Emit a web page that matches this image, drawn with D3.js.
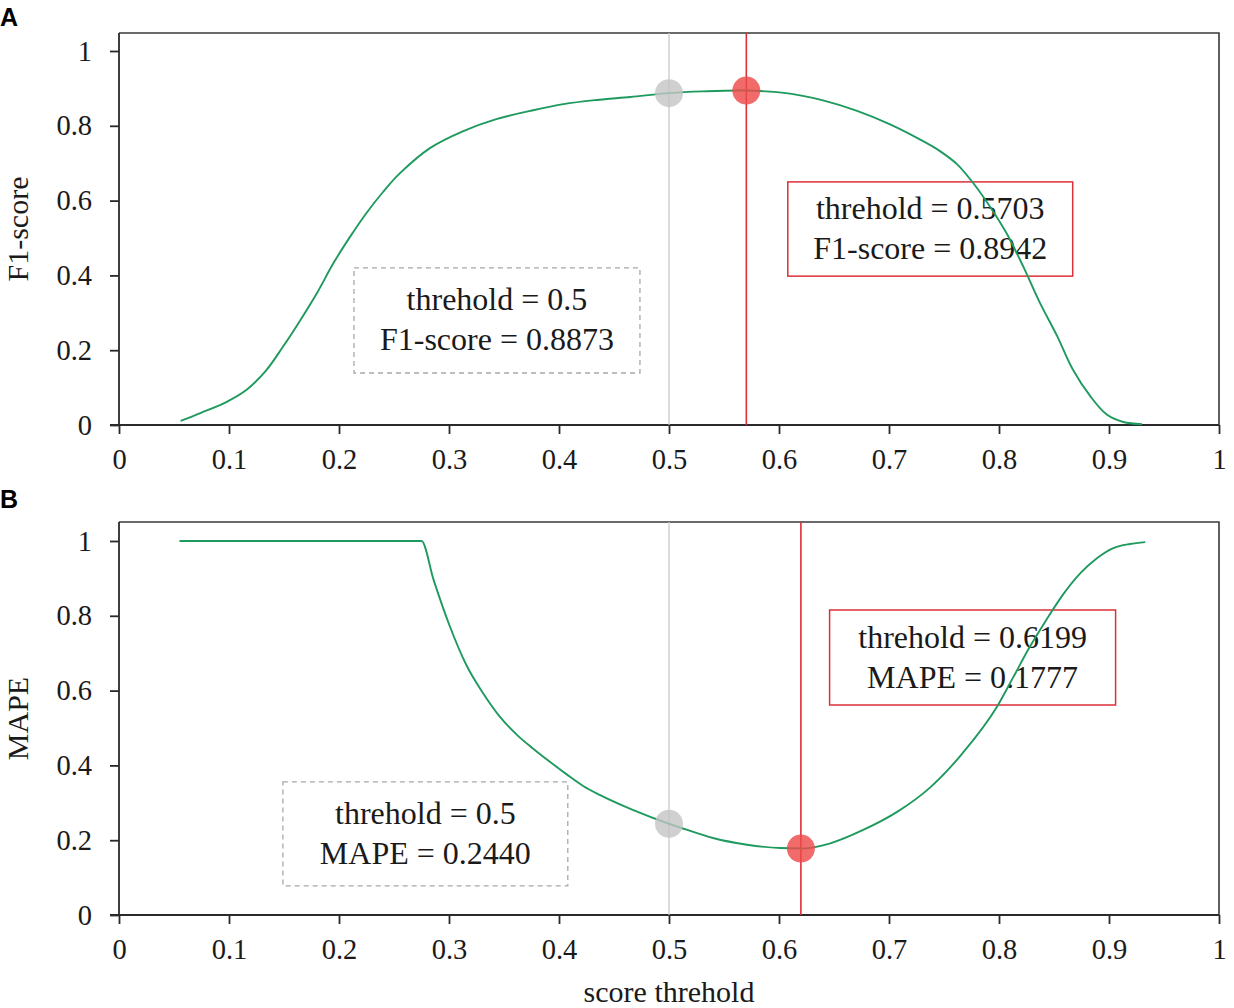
<!DOCTYPE html>
<html>
<head>
<meta charset="utf-8">
<script src="https://cdn.jsdelivr.net/npm/d3@7"></script>
<style>
    body { margin: 0; background: #fff; }
    svg { display: block; }
    .tick text { font-family: "Liberation Serif", "Times New Roman", serif; font-size: 28.5px; fill: #1a1a1a; }
    .axis-title { font-family: "Liberation Serif", "Times New Roman", serif; font-size: 30px; fill: #1a1a1a; }
    .note-text { font-family: "Liberation Serif", "Times New Roman", serif; font-size: 32px; fill: #1a1a1a; }
    .panel-tag { font-family: "Liberation Sans", Arial, sans-serif; font-size: 25px; font-weight: bold; fill: #000; }
</style>
</head>
<body>
<div id="chart"></div>
<script>
// F1-score against score threshold (panel A)
const f1Thresholds = [0.056, 0.074, 0.098, 0.116, 0.134, 0.149, 0.165, 0.180, 0.195, 0.210, 0.225, 0.240, 0.255, 0.283, 0.313, 0.343, 0.374, 0.404, 0.434, 0.465, 0.5, 0.53, 0.5703, 0.610, 0.640, 0.671, 0.701, 0.731, 0.746, 0.762, 0.776, 0.792, 0.807, 0.822, 0.837, 0.853, 0.867, 0.883, 0.898, 0.913, 0.93];
const f1Scores = [0.011, 0.032, 0.062, 0.094, 0.147, 0.209, 0.281, 0.353, 0.433, 0.503, 0.567, 0.623, 0.672, 0.741, 0.786, 0.818, 0.840, 0.858, 0.869, 0.877, 0.8873, 0.892, 0.8942, 0.886, 0.868, 0.840, 0.804, 0.759, 0.733, 0.697, 0.649, 0.583, 0.512, 0.424, 0.328, 0.237, 0.149, 0.077, 0.028, 0.008, 0.002];

// MAPE against score threshold (panel B)
const mapeThresholds = [0.055, 0.275, 0.286, 0.301, 0.316, 0.331, 0.346, 0.362, 0.376, 0.392, 0.407, 0.422, 0.437, 0.467, 0.5, 0.51, 0.540, 0.571, 0.601, 0.6199, 0.646, 0.677, 0.707, 0.737, 0.767, 0.798, 0.813, 0.828, 0.843, 0.858, 0.874, 0.889, 0.904, 0.919, 0.933];
const mapeValues = [1, 1, 0.896, 0.770, 0.667, 0.593, 0.531, 0.481, 0.446, 0.409, 0.376, 0.345, 0.321, 0.281, 0.244, 0.234, 0.206, 0.188, 0.179, 0.1777, 0.191, 0.228, 0.275, 0.340, 0.433, 0.556, 0.636, 0.717, 0.789, 0.856, 0.914, 0.954, 0.981, 0.992, 0.997];

const xTickValues = [0, 0.1, 0.2, 0.3, 0.4, 0.5, 0.6, 0.7, 0.8, 0.9, 1];
const yTickValues = [0, 0.2, 0.4, 0.6, 0.8, 1];

const defaultThreshold = 0.5;
const f1AtDefault = 0.8873;
const f1BestThreshold = 0.5703;
const f1Best = 0.8942;
const mapeAtDefault = 0.2440;
const mapeBestThreshold = 0.6199;
const mapeBest = 0.1777;

const f1DefaultLines = ['threhold = 0.5', 'F1-score = 0.8873'];
const f1BestLines = ['threhold = 0.5703', 'F1-score = 0.8942'];
const mapeDefaultLines = ['threhold = 0.5', 'MAPE = 0.2440'];
const mapeBestLines = ['threhold = 0.6199', 'MAPE = 0.1777'];

const width = 1234;
const height = 1008;
const curveColor = '#1f9a5e';
const bestColor = '#dd2f38';
const defaultColor = '#c9c9c9';

const svg = d3.select('#chart').append('svg')
    .attr('width', width)
    .attr('height', height);

const xScale = d3.scaleLinear().domain([0, 1]).range([119, 1219]);

function drawPanel(panel) {
    const yScale = d3.scaleLinear().domain([0, 1]).range([panel.zeroY, panel.zeroY - 374]);
    const topY = panel.topY;
    const group = svg.append('g');

    // frame: top and right sides
    group.append('path')
        .attr('d', `M${xScale(0)},${topY}H${xScale(1)}V${yScale(0)}`)
        .attr('fill', 'none')
        .attr('stroke', '#3a3a3a')
        .attr('stroke-width', 1.6);

    group.append('g')
        .attr('transform', `translate(0,${yScale(0)})`)
        .call(d3.axisBottom(xScale).tickValues(xTickValues).tickSize(9).tickPadding(15).tickFormat(String))
        .call((axis) => axis.select('.domain').attr('d', `M${xScale(0) - 9},0H${xScale(1)}`))
        .call((axis) => axis.selectAll('line, .domain').attr('stroke', '#2a2a2a').attr('stroke-width', 1.8));

    group.append('g')
        .attr('transform', `translate(${xScale(0)},0)`)
        .call(d3.axisLeft(yScale).tickValues(yTickValues).tickSize(9).tickPadding(18).tickFormat(String))
        .call((axis) => axis.select('.domain').attr('d', `M0,${topY}V${yScale(0)}`))
        .call((axis) => axis.selectAll('line, .domain').attr('stroke', '#2a2a2a').attr('stroke-width', 1.8));

    group.selectAll('.tick text').attr('fill', '#1a1a1a');

    // threshold guide lines
    group.append('line')
        .attr('x1', xScale(panel.defaultThreshold)).attr('x2', xScale(panel.defaultThreshold))
        .attr('y1', topY).attr('y2', yScale(0))
        .attr('stroke', defaultColor).attr('stroke-width', 1.3);

    group.append('line')
        .attr('x1', xScale(panel.bestThreshold)).attr('x2', xScale(panel.bestThreshold))
        .attr('y1', topY).attr('y2', yScale(0))
        .attr('stroke', bestColor).attr('stroke-width', 1.6);

    // annotation boxes
    [panel.defaultBox, panel.bestBox].forEach((box) => {
        const x0 = xScale(box.x0);
        const x1 = xScale(box.x1);
        const y0 = yScale(box.yTop);
        const y1 = yScale(box.yBottom);
        group.append('rect')
            .attr('x', x0).attr('y', y0)
            .attr('width', x1 - x0).attr('height', y1 - y0)
            .attr('fill', 'none')
            .attr('stroke', box.stroke)
            .attr('stroke-width', box.dashed ? 1.3 : 1.5)
            .attr('stroke-dasharray', box.dashed ? '5,4' : null);

        const centerY = (y0 + y1) / 2;
        group.append('g').selectAll('text')
            .data(box.lines)
            .enter()
            .append('text')
            .attr('class', 'note-text')
            .attr('x', (x0 + x1) / 2)
            .attr('y', (line, index) => centerY + (index === 0 ? -20 : 20) + 10)
            .attr('text-anchor', 'middle')
            .text((line) => line);
    });

    // curve
    const points = panel.xs.map((value, index) => [value, panel.ys[index]]);
    group.append('path')
        .datum(points)
        .attr('fill', 'none')
        .attr('stroke', curveColor)
        .attr('stroke-width', 1.9)
        .attr('d', d3.line()
            .x((point) => xScale(point[0]))
            .y((point) => yScale(point[1]))
            .curve(panel.curve));

    // markers
    group.append('circle')
        .attr('cx', xScale(panel.defaultThreshold))
        .attr('cy', yScale(panel.defaultValue))
        .attr('r', 14)
        .attr('fill', '#c4c4c4')
        .attr('fill-opacity', 0.8);

    group.append('circle')
        .attr('cx', xScale(panel.bestThreshold))
        .attr('cy', yScale(panel.bestValue))
        .attr('r', 14)
        .attr('fill', '#ee4b4b')
        .attr('fill-opacity', 0.82);

    // y axis title
    group.append('text')
        .attr('class', 'axis-title')
        .attr('transform', 'rotate(-90)')
        .attr('x', -(topY + yScale(0)) / 2)
        .attr('y', 28)
        .attr('text-anchor', 'middle')
        .text(panel.yTitle);

    group.append('text')
        .attr('class', 'panel-tag')
        .attr('x', 0)
        .attr('y', panel.tagY)
        .text(panel.tag);
}

drawPanel({
    tag: 'A',
    tagY: 26,
    topY: 33,
    zeroY: 425,
    yTitle: 'F1-score',
    xs: f1Thresholds,
    ys: f1Scores,
    curve: d3.curveCatmullRom.alpha(0.5),
    defaultThreshold,
    defaultValue: f1AtDefault,
    bestThreshold: f1BestThreshold,
    bestValue: f1Best,
    defaultBox: { x0: 0.2136, x1: 0.4736, yTop: 0.420, yBottom: 0.139, lines: f1DefaultLines, stroke: '#a8a8a8', dashed: true },
    bestBox: { x0: 0.608, x1: 0.867, yTop: 0.650, yBottom: 0.398, lines: f1BestLines, stroke: bestColor, dashed: false }
});

drawPanel({
    tag: 'B',
    tagY: 508,
    topY: 522,
    zeroY: 915,
    yTitle: 'MAPE',
    xs: mapeThresholds,
    ys: mapeValues,
    curve: d3.curveMonotoneX,
    defaultThreshold,
    defaultValue: mapeAtDefault,
    bestThreshold: mapeBestThreshold,
    bestValue: mapeBest,
    defaultBox: { x0: 0.149, x1: 0.408, yTop: 0.356, yBottom: 0.078, lines: mapeDefaultLines, stroke: '#a8a8a8', dashed: true },
    bestBox: { x0: 0.646, x1: 0.906, yTop: 0.8155, yBottom: 0.5615, lines: mapeBestLines, stroke: bestColor, dashed: false }
});

svg.append('text')
    .attr('class', 'axis-title')
    .attr('x', xScale(0.5))
    .attr('y', 1002)
    .attr('text-anchor', 'middle')
    .text('score threhold');
</script>
</body>
</html>
